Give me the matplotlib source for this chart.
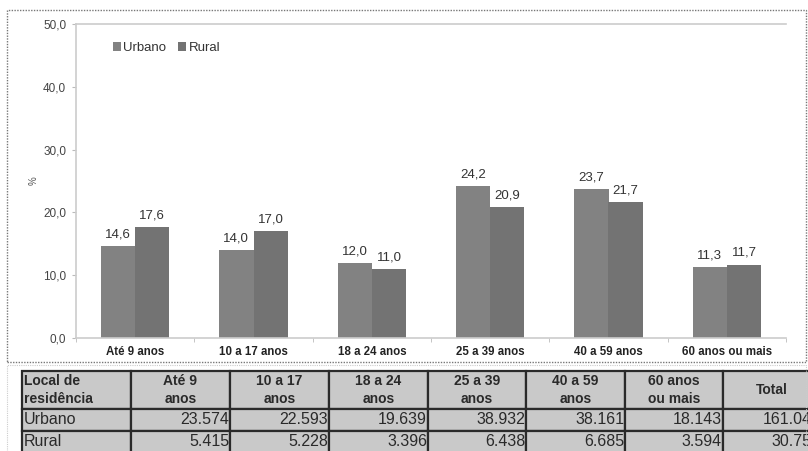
import matplotlib
matplotlib.use("Agg")
import numpy as np
import matplotlib.pyplot as plt
from matplotlib.patches import Rectangle

plt.rcParams['font.family'] = ['Liberation Sans', 'DejaVu Sans']

categories = ["Até 9 anos", "10 a 17 anos", "18 a 24 anos",
              "25 a 39 anos", "40 a 59 anos", "60 anos ou mais"]
urbano_pct = [14.6, 14.0, 12.0, 24.2, 23.7, 11.3]
rural_pct = [17.6, 17.0, 11.0, 20.9, 21.7, 11.7]

table_header = ["Local de\nresidência", "Até 9\nanos", "10 a 17\nanos", "18 a 24\nanos",
                "25 a 39\nanos", "40 a 59\nanos", "60 anos\nou mais", "Total"]
urbano_n = ["23.574", "22.593", "19.639", "38.932", "38.161", "18.143", "161.042"]
rural_n = ["5.415", "5.228", "3.396", "6.438", "6.685", "3.594", "30.756"]

W, H = 808, 451
fig = plt.figure(figsize=(W / 100, H / 100), dpi=100)

def fx(px):
    return px / W

def fy(py):
    return 1 - py / H

# dotted frames around chart and table
fig.patches.append(Rectangle((fx(7), fy(362)), fx(806) - fx(7), fy(10) - fy(362),
                             transform=fig.transFigure, fill=False,
                             edgecolor="#777777", linestyle=(0, (1, 1)), linewidth=1.0))
fig.patches.append(Rectangle((fx(7), fy(460)), fx(806) - fx(7), fy(365) - fy(460),
                             transform=fig.transFigure, fill=False,
                             edgecolor="#cccccc", linestyle=(0, (1, 1)), linewidth=0.8))

ax = fig.add_axes([fx(76), fy(338), fx(786) - fx(76), fy(24) - fy(338)])
x = np.arange(len(categories))
bw = 0.29
b1 = ax.bar(x - bw / 2, urbano_pct, bw, color="#828282", label="Urbano")
b2 = ax.bar(x + bw / 2, rural_pct, bw, color="#737373", label="Rural")

for bars in (b1, b2):
    for r in bars:
        v = r.get_height()
        ax.annotate(f"{v:.1f}".replace(".", ","), (r.get_x() + r.get_width() / 2, v),
                    xytext=(0, 4), textcoords="offset points", ha="center", va="bottom",
                    fontsize=9.5, color="#333333")

ax.set_xlim(-0.5, len(categories) - 0.5)
ax.set_ylim(0, 50)
ax.set_yticks(np.arange(0, 51, 10))
ax.set_yticklabels([f"{v:.1f}".replace(".", ",") for v in np.arange(0, 51, 10)],
                   fontsize=8.5, color="#444444")
ax.set_xticks(x)
ax.set_xticklabels(categories, fontsize=8.3, fontweight="bold", color="#222222")
ax.set_xticks(np.arange(-0.5, len(categories)), minor=True)
ax.tick_params(axis="x", which="major", length=0, pad=6)
ax.tick_params(axis="x", which="minor", length=3, color="#bbbbbb")
ax.tick_params(axis="y", length=3, color="#bbbbbb", pad=4)
ax.spines["right"].set_visible(False)
for s in ["top", "left", "bottom"]:
    ax.spines[s].set_color("#cccccc")
    ax.spines[s].set_linewidth(1.2)
ax.set_ylabel("%", fontsize=7, color="#555555", rotation=90, labelpad=3)
ax.legend(loc="upper left", bbox_to_anchor=(0.035, 0.98), ncol=2, frameon=False,
          fontsize=9.5, handlelength=0.6, handleheight=0.6, handletextpad=0.2,
          columnspacing=0.9, labelcolor="#333333")

# data table
col_px = [109, 99, 99, 99, 98, 99, 98, 98]
row_px = [38, 22, 22]
tx0, ty0 = 22, 371
tw, th = sum(col_px), sum(row_px)
tax = fig.add_axes([fx(tx0), fy(ty0 + th), fx(tw), fy(0) - fy(th)])
tax.axis("off")
cells = [table_header, ["Urbano"] + urbano_n, ["Rural"] + rural_n]
tbl = tax.table(cellText=cells, colWidths=[c / tw for c in col_px],
                bbox=[0, 0, 1, 1], cellLoc="right")
tbl.auto_set_font_size(False)
for (r, c), cell in tbl.get_celld().items():
    cell.set_facecolor("#c9c9c9")
    cell.set_edgecolor("#2a2a2a")
    cell.set_linewidth(1.6)
    cell.set_height(row_px[r] / th)
    t = cell.get_text()
    t.set_color("#2a2a2a")
    if r == 0:
        t.set_fontsize(10)
        t.set_fontweight("bold")
        t.set_linespacing(1.35)
        if c == 0:
            cell._loc = "left"
            t.set_ha("left")
            cell.PAD = 0.02
        else:
            cell._loc = "center"
            t.set_ha("center")
    else:
        t.set_fontsize(11.5)
        if c == 0:
            cell._loc = "left"
            t.set_ha("left")
            cell.PAD = 0.02
        else:
            cell.PAD = 0.01

fig.savefig("out.png", dpi=100)
